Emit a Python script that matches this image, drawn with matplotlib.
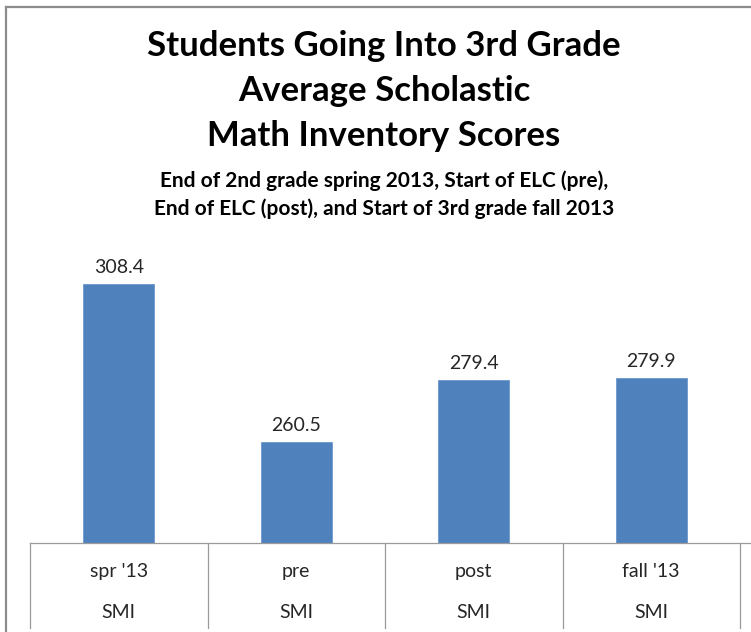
import numpy as np
import matplotlib
matplotlib.use('Agg')
import matplotlib.pyplot as plt
import matplotlib.transforms as mtransforms
from matplotlib.lines import Line2D

categories = ["spr '13", "pre", "post", "fall '13"]
groups = ["SMI", "SMI", "SMI", "SMI"]
scores = [308.4, 260.5, 279.4, 279.9]

title_lines = ["Students Going Into 3rd Grade", "Average Scholastic", "Math Inventory Scores"]
subtitle_lines = ["End of 2nd grade spring 2013, Start of ELC (pre),",
                  "End of ELC (post), and Start of 3rd grade fall 2013"]

plt.rcParams['font.family'] = ['Lato', 'DejaVu Sans']

W, H = 751, 632
fig = plt.figure(figsize=(W / 100, H / 100), dpi=100)

# plot area in pixel terms
x0, x1 = 30, 740
ybase, ytop = 543, 239.4
ax = fig.add_axes([x0 / W, (H - ybase) / H, (x1 - x0) / W, (ybase - ytop) / H])
x = np.arange(len(categories))
bars = ax.bar(x, scores, width=0.4, color='#4F81BD', edgecolor='#6B97CF', lw=0.6)
ax.set_xlim(-0.5, len(categories) - 0.5)
ax.set_ylim(230, 322)
for s in ax.spines.values():
    s.set_visible(False)
ax.set_xticks([])
ax.set_yticks([])

for b, v in zip(bars, scores):
    ax.annotate(f'{v:.1f}', (b.get_x() + b.get_width() / 2, v), xytext=(0, 6),
                textcoords='offset points', ha='center', va='bottom',
                fontsize=14, color='#262626')

# category axis table
trans = mtransforms.blended_transform_factory(ax.transData, ax.transAxes)
for i in range(len(categories) + 1):
    ax.add_line(Line2D([i - 0.5, i - 0.5], [0, -0.28], transform=trans,
                       color='#9a9a9a', lw=0.9, clip_on=False))
for i, (c, g) in enumerate(zip(categories, groups)):
    ax.text(i, -0.095, c, transform=trans, ha='center', va='center', fontsize=14, color='#262626')
    ax.text(i, -0.228, g, transform=trans, ha='center', va='center', fontsize=14, color='#262626')

# baseline extending to figure right edge
fig.add_artist(Line2D([x0 / W, 1], [(H - ybase) / H] * 2, color='#9a9a9a', lw=0.9))

# chart border (left and top)
fig.add_artist(Line2D([6.5 / W, 6.5 / W], [0, 1 - 7 / H], color='#8c8c8c', lw=1.6))
fig.add_artist(Line2D([6.5 / W, 1], [1 - 7 / H] * 2, color='#8c8c8c', lw=1.6))

for k, t in enumerate(title_lines):
    fig.text(384 / W, 1 - (46 + 45 * k) / H, t, ha='center', va='center',
             fontsize=25, fontweight='bold', color='black')
for k, t in enumerate(subtitle_lines):
    fig.text(384 / W, 1 - (181 + 28 * k) / H, t, ha='center', va='center',
             fontsize=15, fontweight='bold', color='black')

fig.savefig('out.png', dpi=100)
